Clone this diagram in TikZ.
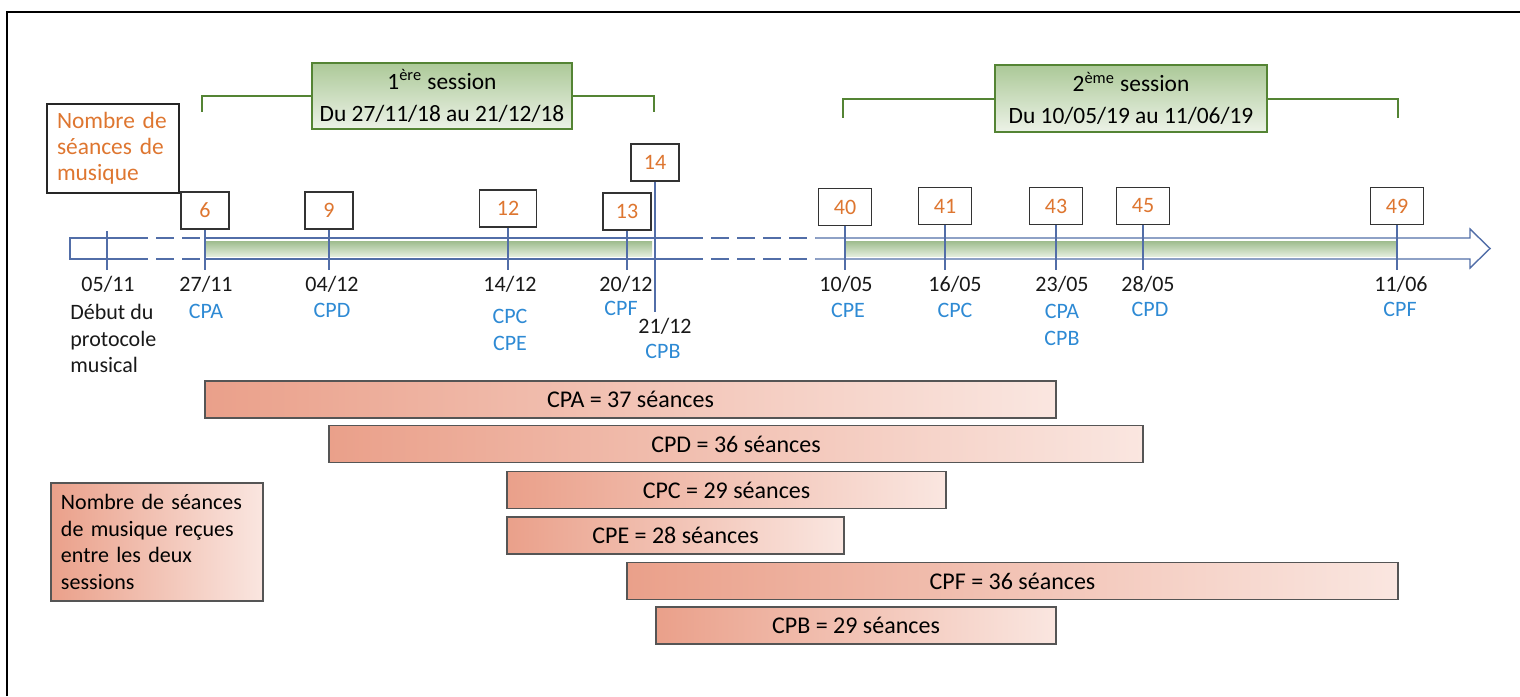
\documentclass[tikz,border=0pt]{standalone}
\usepackage{fontspec}
\setmainfont{Carlito}
\usepackage{xcolor}
\usepackage{tikz}
\usetikzlibrary{positioning}

\definecolor{numorange}{RGB}{222,118,48}
\definecolor{cpblue}{RGB}{46,138,212}
\definecolor{axisblue}{RGB}{82,110,168}
\definecolor{sessedge}{RGB}{84,132,52}
\definecolor{sesstop}{RGB}{172,201,152}
\definecolor{sessbot}{RGB}{236,242,231}
\definecolor{greentop}{RGB}{158,188,142}
\definecolor{greenbot}{RGB}{226,236,219}
\definecolor{barleft}{RGB}{234,160,138}
\definecolor{barright}{RGB}{250,230,224}
\definecolor{baredge}{RGB}{85,85,85}

\tikzset{
	numbox/.style={draw=black!80, line width=0.8pt, fill=white, text=numorange, minimum width=24pt, minimum height=18.5pt, inner sep=2pt},
	tick/.style={draw=axisblue, line width=0.7pt},
	axisline/.style={draw=axisblue, line width=0.7pt},
	date/.style={text=black!90, inner sep=0pt},
	cplabel/.style={text=cpblue, inner sep=0pt},
	sessbox/.style={draw=sessedge, line width=1pt, top color=sesstop, bottom color=sessbot, align=center, font=\fontsize{11.7}{16}\selectfont},
	bracket/.style={draw=sessedge, line width=1pt},
	seancebar/.style={draw=baredge, line width=0.8pt, left color=barleft, right color=barright, minimum height=18.5pt, inner sep=0pt, font=\fontsize{12}{14}\selectfont}
}

\begin{document}
\begin{tikzpicture}[x=0.5pt, y=-0.5pt, font=\fontsize{11}{13}\selectfont]
		\useasboundingbox (0,0) rectangle (1520,696);
		\draw [line width=1pt] (7,696) -- (7,12) -- (1520,12);

		% sessions
		\node[sessbox, minimum width=130pt, minimum height=32pt] (sess1) at (442,96) {1\textsuperscript{ère} session\\Du 27/11/18 au 21/12/18};
		\node[sessbox, minimum width=136pt, minimum height=31.5pt] (sess2) at (1131,98.5) {2\textsuperscript{ème} session\\Du 10/05/19 au 11/06/19};
		\coordinate (br1l) at (202,112);
		\coordinate (br1r) at (654,112);
		\coordinate (br2l) at (843,118);
		\coordinate (br2r) at (1398,118);
		\draw [bracket] (sess1.west) -| (br1l);
		\draw [bracket] (sess1.east) -| (br1r);
		\draw [bracket] (sess2.west |- 0,99) -| (br2l);
		\draw [bracket] (sess2.east |- 0,99) -| (br2r);

		\node[draw=black!85, line width=0.8pt, text=numorange, text width=56pt, inner xsep=5pt, align=left, minimum height=44.5pt, font=\fontsize{11.7}{13}\selectfont] (nbtitle) at (113,148.5) {Nombre de\\séances de\\musique};

		% timeline arrow
		\fill [top color=greentop, bottom color=greenbot] (206,241) rectangle (652,256);
		\fill [top color=greentop, bottom color=greenbot] (846,241) rectangle (1396,256);
		\draw [axisline] (130,238) -- (70,238) -- (70,259) -- (130,259);
		\draw [axisline, dash pattern=on 9pt off 4pt] (130,238) -- (205,238);
		\draw [axisline, dash pattern=on 9pt off 4pt] (130,259) -- (205,259);
		\draw [axisline] (205,238) -- (685,238);
		\draw [axisline] (205,259) -- (685,259);
		\draw [axisline, dash pattern=on 9pt off 4pt] (685,238) -- (815,238);
		\draw [axisline, dash pattern=on 9pt off 4pt] (685,259) -- (815,259);
		\draw [axisline] (815,238) -- (1470,238) -- (1470,229) -- (1490,248.5) -- (1470,268) -- (1470,259) -- (815,259);

		% numbers of sessions
		\node[numbox] (n6) at (205,210.5) {6};
		\node[numbox] (n9) at (329,210.5) {9};
		\node[numbox, minimum width=28.5pt] (n12) at (508,208.5) {12};
		\node[numbox] (n13) at (627,211.5) {13};
		\node[numbox] (n14) at (655,162.5) {14};
		\node[numbox, minimum width=26.5pt] (n40) at (845,207) {40};
		\node[numbox, minimum width=26.5pt] (n41) at (945,206) {41};
		\node[numbox, minimum width=26.5pt] (n43) at (1056,206) {43};
		\node[numbox, minimum width=26.5pt] (n45) at (1143,206) {45};
		\node[numbox, minimum width=26.5pt] (n49) at (1397,206) {49};

		% ticks
		\coordinate (top0511) at (107,231);
		\coordinate (t0511) at (107,270);
		\coordinate (t2711) at (205,270);
		\coordinate (t0412) at (329,270);
		\coordinate (t1412) at (508,270);
		\coordinate (t2012) at (627,270);
		\coordinate (t2112) at (655,312);
		\coordinate (t1005) at (845,270);
		\coordinate (t1605) at (945,270);
		\coordinate (t2305) at (1056,270);
		\coordinate (t2805) at (1143,270);
		\coordinate (t1106) at (1397,270);
		\draw [tick] (top0511) -- (t0511);
		\draw [tick] (n6) -- (t2711);
		\draw [tick] (n9) -- (t0412);
		\draw [tick] (n12) -- (t1412);
		\draw [tick] (n13) -- (t2012);
		\draw [tick] (n14) -- (t2112);
		\draw [tick] (n40) -- (t1005);
		\draw [tick] (n41) -- (t1605);
		\draw [tick] (n43) -- (t2305);
		\draw [tick] (n45) -- (t2805);
		\draw [tick] (n49) -- (t1106);

		% dates
		\node[date] (d0511) at (108,284) {05/11};
		\node[date] (d2711) at (206,284) {27/11};
		\node[date] (d0412) at (332,284) {04/12};
		\node[date] (d1412) at (510,284) {14/12};
		\node[date] (d2012) at (626,284) {20/12};
		\node[date] (d2112) at (665,326) {21/12};
		\node[date] (d1005) at (846,284) {10/05};
		\node[date] (d1605) at (955,284) {16/05};
		\node[date] (d2305) at (1062,284) {23/05};
		\node[date] (d2805) at (1148,284) {28/05};
		\node[date] (d1106) at (1401,284) {11/06};
		\node[date, anchor=north west, align=left, font=\fontsize{11}{13.2}\selectfont] (debut) at (70,304) {Début du\\protocole\\musical};

		% patients
		\node[cplabel] (c2711) at (206,311) {CPA};
		\node[cplabel] (c0412) at (332,310) {CPD};
		\node[cplabel] (c1412a) at (510,316) {CPC};
		\node[cplabel] (c1412b) at (510,343) {CPE};
		\node[cplabel] (c2012) at (621,308) {CPF};
		\node[cplabel] (c2112) at (663,351) {CPB};
		\node[cplabel] (c1005) at (848,310) {CPE};
		\node[cplabel] (c1605) at (955,310) {CPC};
		\node[cplabel] (c2305a) at (1062,311) {CPA};
		\node[cplabel] (c2305b) at (1062,338) {CPB};
		\node[cplabel] (c2805) at (1150,309) {CPD};
		\node[cplabel] (c1106) at (1400,309) {CPF};

		% sessions received
		\node[seancebar, minimum width=425.5pt] (cpa) at (630.5,399.5) {CPA = 37 séances};
		\node[seancebar, minimum width=407pt] (cpd) at (736,444) {CPD = 36 séances};
		\node[seancebar, minimum width=219.5pt] (cpc) at (726.5,490) {CPC = 29 séances};
		\node[seancebar, minimum width=168.5pt] (cpe) at (675.5,535.5) {CPE = 28 séances};
		\node[seancebar, minimum width=385.5pt] (cpf) at (1012.5,581) {CPF = 36 séances};
		\node[seancebar, minimum width=200pt] (cpb) at (856,625.5) {CPB = 29 séances};

		\node[draw=baredge, line width=0.8pt, left color=barleft, right color=barright, text width=96pt, inner xsep=5pt, align=left, minimum height=59pt, font=\fontsize{11}{13.2}\selectfont] (legende) at (157,542) {Nombre de séances\\de musique reçues\\entre les deux\\sessions};
	\end{tikzpicture}
\end{document}
